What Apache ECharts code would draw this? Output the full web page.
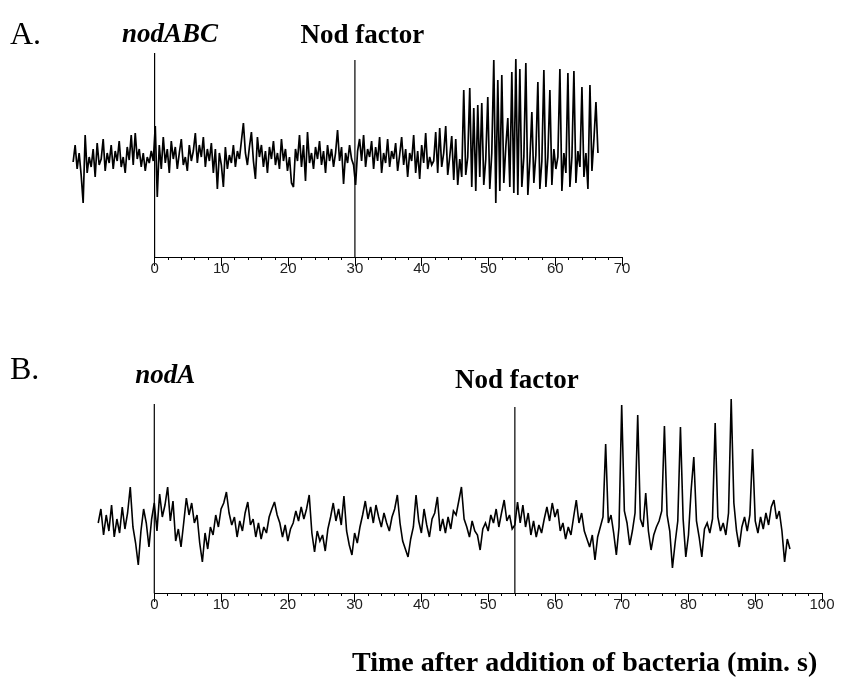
<!DOCTYPE html>
<html><head><meta charset="utf-8">
<script src="https://cdn.jsdelivr.net/npm/echarts@6/dist/echarts.min.js"></script>
<style>html,body{margin:0;padding:0;background:#fff}#c{width:844px;height:694px}</style>
</head><body><div id="c"></div>
<script>
// ---- Panel A data ----
const panelLabelA = 'A.';
const timeStartA = -12.2, timeStepA = 0.3;   // minutes
const signalA = [
95,112,88,104,82,54,122,84,100,90,
108,80,114,92,98,118,86,104,94,112,
88,106,96,116,90,100,84,110,97,122,
92,124,98,108,90,104,86,100,94,106,
96,131,60,112,88,120,94,108,84,116,
98,110,88,104,118,92,100,86,112,96,
106,124,94,112,100,120,90,108,96,114,
84,108,68,104,92,70,110,88,102,94,
112,90,106,98,116,134,104,92,110,125,
96,78,120,100,112,90,106,84,110,98,
116,92,104,88,118,96,108,86,100,74,
70,108,96,122,90,112,76,125,94,104,
88,110,98,116,92,106,84,112,96,108,
90,104,127,96,110,73,104,94,112,98,
92,72,106,118,96,122,90,108,100,116,
88,110,96,120,84,104,94,118,90,106,
98,114,86,102,120,92,108,80,104,96,
122,84,106,78,112,94,124,88,100,92,
96,125,84,129,90,104,131,82,100,121,
77,118,72,98,80,167,82,100,169,70,
149,66,152,80,154,72,98,160,68,104,
197,54,177,66,182,74,110,139,70,185,
64,198,62,188,70,100,194,62,96,145,
74,102,175,68,96,187,70,100,167,72,
108,88,100,188,66,104,84,184,70,100,
186,74,106,90,170,80,104,68,172,86,
118,155,104];
const eventTimesA = [0, 30];
const eventHeightsA = [204, 197];
const eventNamesA = ['nodABC', 'Nod factor'];
const eventItalicA = [true, false];
const ticksA = {min: 0, max: 70, step: 10};

// ---- Panel B data ----
const panelLabelB = 'B.';
const timeStartB = -8.4, timeStepB = 0.4;
const signalB = [
70,84,58,78,62,88,56,74,60,86,
64,80,106,66,50,28,62,84,70,46,
74,90,62,99,76,88,106,72,92,52,
64,46,70,95,78,90,70,78,50,31,
60,44,66,58,78,66,84,90,101,80,
68,76,56,72,62,80,91,68,74,56,
70,54,66,60,76,84,91,78,70,56,
68,52,64,70,82,72,86,74,84,98,
60,41,62,52,58,42,64,76,90,72,
84,68,97,62,48,38,60,50,66,78,
92,74,86,70,88,76,66,80,70,62,
76,84,98,70,52,44,36,54,66,98,
72,60,84,68,56,74,80,96,62,74,
60,76,64,82,78,92,106,74,66,56,
72,62,58,43,64,70,62,78,70,84,
66,80,93,72,78,64,68,91,70,88,
66,80,58,72,56,68,60,74,86,72,
90,76,84,62,70,54,66,58,76,93,
70,80,62,54,46,58,33,56,66,76,
149,70,78,60,38,66,188,82,70,48,
62,80,178,74,66,100,62,43,58,66,
72,82,167,78,62,25,50,72,166,74,
36,58,103,136,72,56,36,64,70,60,
74,170,76,62,70,58,80,194,90,62,
46,66,76,62,78,144,72,60,76,64,
80,68,86,93,74,82,62,31,54,44];
const eventTimesB = [0, 54];
const eventHeightsB = [189, 186];
const eventNamesB = ['nodA', 'Nod factor'];
const eventItalicB = [true, false];
const ticksB = {min: 0, max: 100, step: 10};

const xTitle = 'Time after addition of bacteria (min. s)';

// ---- layout / style ----
const serif = '"Liberation Serif","Times New Roman",serif';
const sans = '"Liberation Sans",Arial,sans-serif';
const PX_PER_MIN = 6.677;
const traceMinA = -13, traceMinB = -9;
const labelOffsetsA = [[15.4, -18], [7.4, -24]];
const labelOffsetsB = [[11, -28], [2, -26]];

function traceData(start, step, vals) {
  return vals.map((v, i) => [+(start + i * step).toFixed(3), v]);
}
function xAxisCfg(gi, t) {
  return {
    type: 'value', gridIndex: gi, min: t.min, max: t.max, interval: t.step,
    axisLine: {show: true, onZero: false, lineStyle: {color: '#000', width: 1}},
    axisTick: {show: true, length: 9, lineStyle: {color: '#000', width: 1}},
    minorTick: {show: true, splitNumber: 5, length: 3, lineStyle: {color: '#000'}},
    splitLine: {show: false}, minorSplitLine: {show: false},
    axisLabel: {fontFamily: sans, fontSize: 15, color: '#222', margin: 4}
  };
}
function hiddenX(gi, min, max) {
  return {type: 'value', gridIndex: gi, min: min, max: max, show: false, splitLine: {show: false}};
}
function yAxisCfg(gi, max) {
  return {type: 'value', gridIndex: gi, min: 0, max: max, show: false, splitLine: {show: false}};
}
function eventSeries(gi, times, heights) {
  return times.map((t, k) => ({
    type: 'line', xAxisIndex: gi, yAxisIndex: gi, symbol: 'none', silent: true,
    lineStyle: {color: '#000', width: 1.2},
    data: [[t, 0], [t, heights[k]]]
  }));
}

const gridA = {left: 154.6, top: 47, width: 70 * PX_PER_MIN, height: 210};
const gridB = {left: 154.3, top: 393, width: 100 * PX_PER_MIN, height: 200};
const gridAT = {left: gridA.left + traceMinA * PX_PER_MIN, top: 47, width: (70 - traceMinA) * PX_PER_MIN, height: 210};
const gridBT = {left: gridB.left + traceMinB * PX_PER_MIN, top: 393, width: (100 - traceMinB) * PX_PER_MIN, height: 200};

const chart = echarts.init(document.getElementById('c'), null, {renderer: 'canvas'});
chart.setOption({
  backgroundColor: '#fff',
  animation: false,
  grid: [gridA, gridAT, gridB, gridBT],
  xAxis: [xAxisCfg(0, ticksA), hiddenX(1, traceMinA, 70), xAxisCfg(2, ticksB), hiddenX(3, traceMinB, 100)],
  yAxis: [yAxisCfg(0, 210), yAxisCfg(1, 210), yAxisCfg(2, 200), yAxisCfg(3, 200)],
  series: [
    {type: 'line', xAxisIndex: 1, yAxisIndex: 1, symbol: 'none', silent: true,
     lineStyle: {color: '#000', width: 1.7, join: 'miter', miterLimit: 3}, data: traceData(timeStartA, timeStepA, signalA)},
    {type: 'line', xAxisIndex: 3, yAxisIndex: 3, symbol: 'none', silent: true,
     lineStyle: {color: '#000', width: 1.6, join: 'miter', miterLimit: 3}, data: traceData(timeStartB, timeStepB, signalB)}
  ].concat(eventSeries(0, eventTimesA, eventHeightsA))
   .concat(eventSeries(2, eventTimesB, eventHeightsB))
});

// text labels placed from the axes' own scales
function eventLabels(gi, times, heights, names, italic, offs) {
  return times.map((t, k) => {
    const p = chart.convertToPixel({xAxisIndex: gi, yAxisIndex: gi}, [t, heights[k]]);
    return {type: 'text', x: p[0] + offs[k][0], y: p[1] + offs[k][1],
      style: {text: names[k], fill: '#000', align: 'center', verticalAlign: 'middle',
        font: (italic[k] ? 'italic ' : '') + 'bold 27px ' + serif}};
  });
}
chart.setOption({
  graphic: [
    {type: 'text', left: 10, top: 20, style: {text: panelLabelA, font: '32px ' + serif, fill: '#000'}},
    {type: 'text', left: 10, top: 355, style: {text: panelLabelB, font: '32px ' + serif, fill: '#000'}},
    {type: 'text', left: 352, top: 650, style: {text: xTitle, font: 'bold 28px ' + serif, fill: '#000'}}
  ].concat(eventLabels(0, eventTimesA, eventHeightsA, eventNamesA, eventItalicA, labelOffsetsA))
   .concat(eventLabels(2, eventTimesB, eventHeightsB, eventNamesB, eventItalicB, labelOffsetsB))
});
</script></body></html>
